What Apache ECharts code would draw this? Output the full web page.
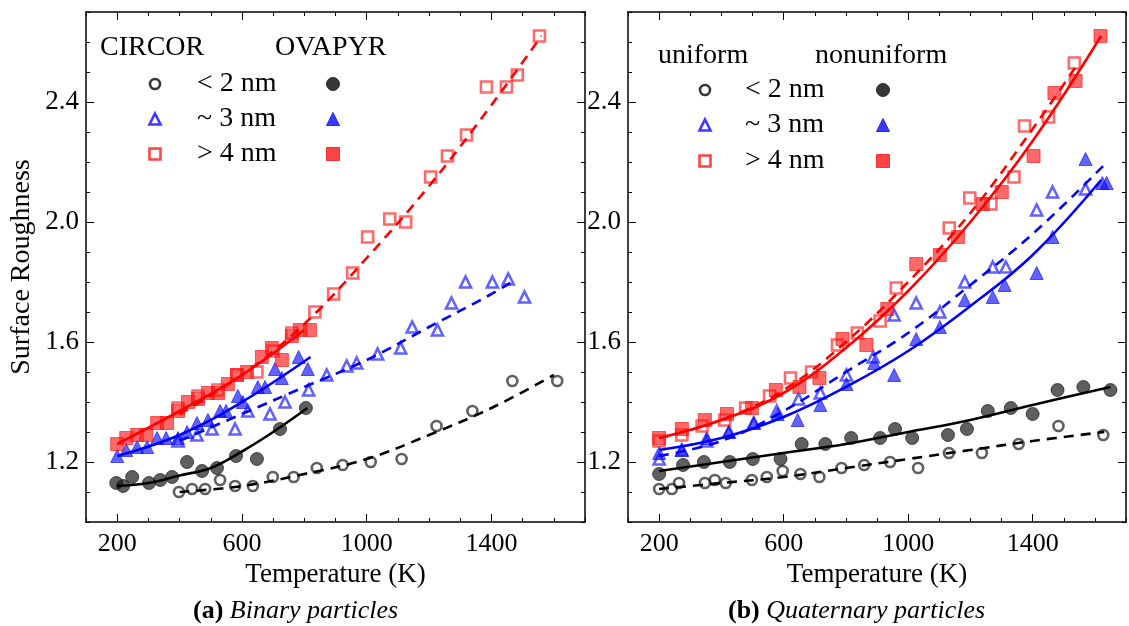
<!DOCTYPE html>
<html><head><meta charset="utf-8">
<script src="https://cdn.jsdelivr.net/npm/echarts@6/dist/echarts.min.js"></script>
<style>html,body{margin:0;padding:0;background:#fff}#c{width:1129px;height:626px}</style>
</head><body><div id="c"></div>
<script>
// ---------- tick labels ----------
const xTickLabels = [200, 600, 1000, 1400];
const yTickLabels = [1.2, 1.6, 2.0, 2.4];

// ---------- (a) Binary particles: [Temperature K, Surface Roughness] ----------
const aCircorSmall = [[398,1.10],[440,1.11],[482,1.11],[530,1.14],[578,1.12],[635,1.12],[699,1.15],[766,1.15],[840,1.18],[923,1.19],[1013,1.20],[1112,1.21],[1224,1.32],[1339,1.37],[1467,1.47],[1611,1.47]];
const aOvapyrSmall = [[197,1.13],[219,1.12],[248,1.15],[302,1.13],[338,1.14],[376,1.15],[424,1.20],[472,1.17],[520,1.18],[581,1.22],[648,1.21],[722,1.31],[805,1.38]];
const aCircorMid = [[395,1.27],[456,1.29],[504,1.31],[578,1.31],[619,1.37],[690,1.36],[738,1.40],[814,1.44],[872,1.49],[936,1.52],[968,1.53],[1035,1.56],[1109,1.58],[1146,1.65],[1227,1.64],[1272,1.73],[1317,1.80],[1403,1.80],[1454,1.81],[1506,1.75]];
const aOvapyrMid = [[200,1.22],[229,1.24],[264,1.25],[296,1.25],[328,1.28],[357,1.28],[395,1.28],[424,1.30],[456,1.33],[491,1.34],[530,1.37],[549,1.37],[587,1.42],[603,1.40],[651,1.45],[674,1.45],[706,1.51],[728,1.48],[782,1.55],[811,1.51]];
const aCircorLarge = [[395,1.38],[459,1.42],[523,1.44],[584,1.49],[648,1.50],[700,1.57],[760,1.63],[834,1.70],[894,1.76],[955,1.83],[1003,1.95],[1074,2.01],[1125,2.00],[1205,2.15],[1259,2.22],[1320,2.29],[1384,2.45],[1448,2.45],[1483,2.49],[1554,2.62]];
const aOvapyrLarge = [[200,1.26],[229,1.28],[264,1.29],[293,1.29],[328,1.33],[360,1.33],[395,1.37],[427,1.40],[459,1.41],[491,1.43],[523,1.43],[555,1.46],[584,1.49],[616,1.50],[664,1.55],[696,1.58],[728,1.54],[760,1.62],[786,1.64],[818,1.64]];
// fit curves
const aFitCircorSmall = [[400,1.10],[600,1.12],[800,1.16],[1000,1.21],[1200,1.29],[1400,1.38],[1600,1.49]];
const aFitOvapyrSmall = [[200,1.12],[300,1.13],[400,1.155],[500,1.18],[600,1.235],[700,1.30],[810,1.38]];
const aFitCircorMid = [[400,1.27],[600,1.36],[800,1.45],[1000,1.54],[1200,1.65],[1400,1.76],[1480,1.81]];
const aFitOvapyrMid = [[200,1.22],[400,1.29],[600,1.40],[820,1.55]];
const aFitCircorLarge = [[400,1.36],[600,1.49],[800,1.66],[1000,1.88],[1200,2.12],[1400,2.39],[1560,2.62]];
const aFitOvapyrLarge = [[200,1.26],[400,1.37],[600,1.49],[800,1.64]];

// ---------- (b) Quaternary particles ----------
const bUniSmall = [[200,1.11],[241,1.11],[264,1.13],[347,1.13],[379,1.14],[414,1.13],[498,1.14],[546,1.15],[597,1.17],[654,1.16],[715,1.15],[786,1.18],[859,1.19],[942,1.20],[1032,1.18],[1131,1.23],[1237,1.23],[1355,1.26],[1483,1.32],[1627,1.29]];
const bNonSmall = [[200,1.16],[277,1.19],[344,1.20],[427,1.20],[501,1.21],[590,1.21],[658,1.26],[734,1.26],[817,1.28],[910,1.28],[958,1.31],[1013,1.28],[1128,1.29],[1189,1.31],[1256,1.37],[1330,1.38],[1400,1.36],[1480,1.44],[1563,1.45],[1650,1.44]];
const bUniMid = [[200,1.21],[273,1.24],[353,1.27],[424,1.30],[504,1.33],[578,1.37],[648,1.41],[718,1.43],[802,1.49],[888,1.55],[955,1.69],[1026,1.73],[1102,1.70],[1182,1.80],[1272,1.85],[1314,1.85],[1413,2.04],[1464,2.10],[1570,2.11]];
const bNonMid = [[200,1.23],[273,1.24],[353,1.28],[424,1.30],[504,1.33],[581,1.36],[645,1.34],[718,1.39],[802,1.46],[891,1.53],[955,1.49],[1026,1.61],[1102,1.65],[1182,1.74],[1272,1.75],[1310,1.79],[1413,1.83],[1464,1.95],[1570,2.21],[1624,2.13],[1638,2.13]];
const bUniLarge = [[200,1.27],[273,1.29],[338,1.32],[411,1.34],[478,1.38],[555,1.42],[622,1.48],[690,1.50],[773,1.59],[837,1.63],[910,1.67],[962,1.78],[1132,1.98],[1198,2.08],[1266,2.06],[1340,2.15],[1374,2.32],[1451,2.35],[1534,2.53]];
const bNonLarge = [[200,1.28],[273,1.31],[347,1.34],[418,1.36],[498,1.38],[575,1.44],[651,1.45],[715,1.48],[789,1.61],[866,1.59],[933,1.71],[1026,1.86],[1102,1.89],[1160,1.95],[1240,2.06],[1301,2.10],[1403,2.22],[1470,2.43],[1538,2.47],[1618,2.62]];
const bFitUniSmall = [[200,1.11],[400,1.13],[600,1.15],[800,1.18],[1000,1.21],[1200,1.24],[1400,1.27],[1630,1.30]];
const bFitNonSmall = [[200,1.17],[400,1.20],[600,1.23],[800,1.26],[1000,1.30],[1200,1.34],[1400,1.39],[1650,1.45]];
const bFitUniMid = [[200,1.22],[400,1.27],[600,1.37],[800,1.50],[1000,1.63],[1200,1.79],[1400,1.96],[1630,2.19]];
const bFitNonMid = [[200,1.24],[400,1.28],[600,1.35],[800,1.45],[1000,1.57],[1200,1.72],[1400,1.89],[1620,2.14]];
const bFitUniLarge = [[200,1.28],[400,1.34],[600,1.44],[800,1.60],[1000,1.80],[1200,2.03],[1400,2.31],[1540,2.52]];
const bFitNonLarge = [[200,1.28],[400,1.34],[600,1.43],[800,1.58],[1000,1.77],[1200,2.00],[1400,2.27],[1620,2.62]];

const legendA = {left: 'CIRCOR', right: 'OVAPYR', rows: ['< 2 nm', '~ 3 nm', '> 4 nm']};
const legendB = {left: 'uniform', right: 'nonuniform', rows: ['< 2 nm', '~ 3 nm', '> 4 nm']};

// ---------- styling ----------
const FONT = 'Liberation Serif';
const C = {k: 'rgba(20,20,20,0.85)', b: 'rgba(10,10,255,0.8)', r: 'rgba(255,20,20,0.8)'};
const L = {k: '#000', b: '#0000ff', r: '#ff0000'};

function xAxes(gi) {
  const base = {type: 'value', gridIndex: gi, min: 100, max: 1700, interval: 100, splitLine: {show: false}};
  const line = {show: true, onZero: false, lineStyle: {color: '#000', width: 1.5}};
  return [
    Object.assign({}, base, {position: 'bottom', axisLine: line,
      axisTick: {inside: true, length: 4, lineStyle: {color: '#000'}},
      axisLabel: {formatter: v => xTickLabels.includes(v) ? String(v) : '', fontFamily: FONT, fontSize: 26, color: '#000', margin: 9},
      name: 'Temperature (K)', nameLocation: 'middle', nameGap: 38,
      nameTextStyle: {fontFamily: FONT, fontSize: 27, color: '#000'}}),
    Object.assign({}, base, {position: 'bottom', axisLine: {show: false},
      axisTick: {inside: true, length: 8, customValues: xTickLabels, lineStyle: {color: '#000'}}, axisLabel: {show: false}}),
    Object.assign({}, base, {position: 'top', axisLine: line,
      axisTick: {inside: true, length: 4, lineStyle: {color: '#000'}}, axisLabel: {show: false}}),
    Object.assign({}, base, {position: 'top', axisLine: {show: false},
      axisTick: {inside: true, length: 8, customValues: xTickLabels, lineStyle: {color: '#000'}}, axisLabel: {show: false}})
  ];
}
function isYTick(v) { return yTickLabels.some(t => Math.abs(t - v) < 1e-6); }
function yAxes(gi, withName) {
  const base = {type: 'value', gridIndex: gi, min: 1.0, max: 2.7, interval: 0.1, splitLine: {show: false}};
  const line = {show: true, onZero: false, lineStyle: {color: '#000', width: 1.5}};
  const main = Object.assign({}, base, {position: 'left', axisLine: line,
      axisTick: {inside: true, length: 4, lineStyle: {color: '#000'}},
      axisLabel: {formatter: v => isYTick(v) ? v.toFixed(1) : '', fontFamily: FONT, fontSize: 27, color: '#000', margin: 7}});
  if (withName) Object.assign(main, {name: 'Surface Roughness', nameLocation: 'middle', nameGap: 50,
      nameTextStyle: {fontFamily: FONT, fontSize: 28, color: '#000'}});
  return [
    main,
    Object.assign({}, base, {position: 'left', axisLine: {show: false},
      axisTick: {inside: true, length: 8, customValues: yTickLabels, lineStyle: {color: '#000'}}, axisLabel: {show: false}}),
    Object.assign({}, base, {position: 'right', axisLine: line,
      axisTick: {inside: true, length: 4, lineStyle: {color: '#000'}}, axisLabel: {show: false}}),
    Object.assign({}, base, {position: 'right', axisLine: {show: false},
      axisTick: {inside: true, length: 8, customValues: yTickLabels, lineStyle: {color: '#000'}}, axisLabel: {show: false}})
  ];
}

function scatter(data, ai, col, sym, open) {
  const size = sym === 'circle' ? (open ? 10 : 13) : (open ? 11 : 13);
  return {type: 'scatter', xAxisIndex: ai, yAxisIndex: ai, data: data, symbol: sym, symbolSize: size, z: 2,
    itemStyle: open ? {color: 'rgba(255,255,255,0)', borderColor: col, borderWidth: 2.6} : {color: col, borderColor: col, borderWidth: 1}};
}
function fit(data, ai, col, dashed) {
  return {type: 'line', xAxisIndex: ai, yAxisIndex: ai, data: data, smooth: 0.4, showSymbol: false, z: 4, silent: true,
    lineStyle: {color: col, width: 2.6, type: dashed ? [10, 7] : 'solid'}};
}

const series = [
  scatter(aCircorSmall, 0, C.k, 'circle', true), scatter(aOvapyrSmall, 0, C.k, 'circle', false),
  scatter(aCircorMid, 0, C.b, 'triangle', true), scatter(aOvapyrMid, 0, C.b, 'triangle', false),
  scatter(aCircorLarge, 0, C.r, 'rect', true), scatter(aOvapyrLarge, 0, C.r, 'rect', false),
  fit(aFitCircorSmall, 0, L.k, true), fit(aFitOvapyrSmall, 0, L.k, false),
  fit(aFitCircorMid, 0, L.b, true), fit(aFitOvapyrMid, 0, L.b, false),
  fit(aFitCircorLarge, 0, L.r, true), fit(aFitOvapyrLarge, 0, L.r, false),
  scatter(bUniSmall, 4, C.k, 'circle', true), scatter(bNonSmall, 4, C.k, 'circle', false),
  scatter(bUniMid, 4, C.b, 'triangle', true), scatter(bNonMid, 4, C.b, 'triangle', false),
  scatter(bUniLarge, 4, C.r, 'rect', true), scatter(bNonLarge, 4, C.r, 'rect', false),
  fit(bFitUniSmall, 4, L.k, true), fit(bFitNonSmall, 4, L.k, false),
  fit(bFitUniMid, 4, L.b, true), fit(bFitNonMid, 4, L.b, false),
  fit(bFitUniLarge, 4, L.r, true), fit(bFitNonLarge, 4, L.r, false)
];

// ---------- legend drawn as graphics ----------
function marker(kind, cx, cy, col, open) {
  const st = open ? {fill: 'rgba(255,255,255,0)', stroke: col, lineWidth: 2.6} : {fill: col, stroke: col, lineWidth: 1};
  if (kind === 'circle') return {type: 'circle', shape: {cx: cx, cy: cy, r: open ? 5 : 6.5}, style: st};
  if (kind === 'rect') { const h = open ? 5.5 : 6.5; return {type: 'rect', shape: {x: cx - h, y: cy - h, width: 2 * h, height: 2 * h}, style: st}; }
  const h = open ? 5.5 : 6.5;
  return {type: 'polygon', shape: {points: [[cx, cy - h], [cx + h, cy + h], [cx - h, cy + h]]}, style: st};
}
function legend(lg, x0, y0, symX, txtX, fillX, rowY, rightX) {
  const els = [];
  const ts = {fontFamily: FONT, fontSize: 28, fill: '#000'};
  els.push({type: 'text', style: Object.assign({text: lg.left, x: x0, y: y0, verticalAlign: 'middle'}, ts)});
  els.push({type: 'text', style: Object.assign({text: lg.right, x: rightX, y: y0, verticalAlign: 'middle'}, ts)});
  const kinds = ['circle', 'triangle', 'rect'], cols = [C.k, C.b, C.r];
  lg.rows.forEach((t, i) => {
    const y = rowY[i];
    els.push(marker(kinds[i], symX, y, cols[i], true));
    els.push({type: 'text', style: Object.assign({text: t, x: txtX, y: y, verticalAlign: 'middle'}, ts)});
    els.push(marker(kinds[i], fillX, y, cols[i], false));
  });
  return els;
}

const capRich = {b: {fontFamily: FONT, fontSize: 26, fontWeight: 'bold', fill: '#000'}, i: {fontFamily: FONT, fontSize: 26, fontStyle: 'italic', fill: '#000'}};
const graphic = [].concat(
  legend(legendA, 100, 48, 155, 197, 333, [84, 119, 154], 275),
  legend(legendB, 658, 56, 705, 745, 883, [90, 125, 161], 815),
  [
    {type: 'text', style: {text: '{b|(a)} {i|Binary particles}', x: 193, y: 611, verticalAlign: 'middle', rich: capRich, fontFamily: FONT, fontSize: 26, fill: '#000'}},
    {type: 'text', style: {text: '{b|(b)} {i|Quaternary particles}', x: 728, y: 611, verticalAlign: 'middle', rich: capRich, fontFamily: FONT, fontSize: 26, fill: '#000'}}
  ]
);

const chart = echarts.init(document.getElementById('c'), null, {renderer: 'canvas'});
chart.setOption({
  animation: false,
  backgroundColor: '#fff',
  grid: [
    {left: 86, top: 12, width: 499, height: 510},
    {left: 628, top: 12, width: 502, height: 510}
  ],
  xAxis: [].concat(xAxes(0), xAxes(1)),
  yAxis: [].concat(yAxes(0, true), yAxes(1, false)),
  series: series,
  graphic: graphic
});
</script></body></html>
